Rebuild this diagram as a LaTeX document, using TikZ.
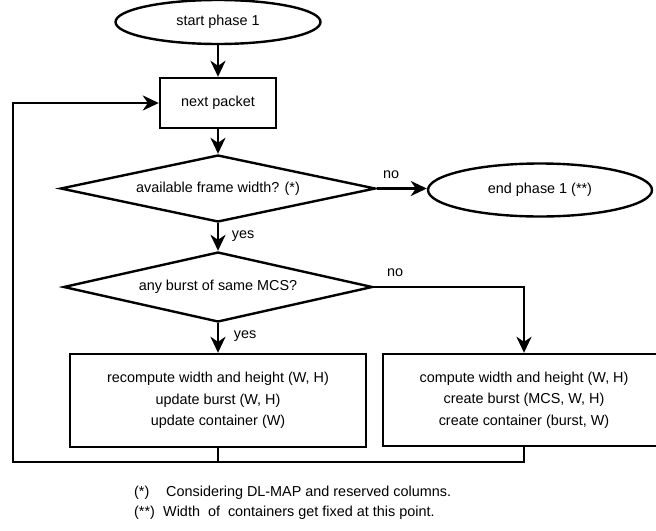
\documentclass[tikz,border=0pt]{standalone}
\usepackage{fontspec}
\setmainfont{Liberation Sans}
\usetikzlibrary{shapes.geometric,arrows.meta,positioning}

\tikzset{
	terminal/.style={ellipse, draw, inner sep=0pt},
	process/.style={rectangle, draw, inner sep=0pt, align=center},
	decision/.style={diamond, draw, aspect=4, inner sep=0pt},
	flow/.style={->},
}

\begin{document}
\begin{tikzpicture}[x=0.5pt,y=-0.5pt,>={Stealth[length=8pt,width=7.5pt,inset=2.5pt]},
	line width=1.2pt, font=\fontsize{7.2}{10.75}\selectfont]

\useasboundingbox (0,0) rectangle (656,530);

% Main column
\node[terminal, minimum width=102.5pt, minimum height=22pt] (start) at (218,22) {start phase 1};
\node[process, minimum width=58pt, minimum height=25pt] (next) at (218,103) {next packet};
\node[decision, minimum width=157.5pt, minimum height=33.5pt] (width) at (218,188.5) {available frame width? (*)};
\node[decision, minimum width=154.5pt, minimum height=35pt] (burst) at (218,287) {any burst of same MCS?};

% End of phase
\node[terminal, minimum width=112pt, minimum height=26.5pt] (end) at (540,190) {end phase 1 (**)};

% Action boxes
\node[process, minimum width=148pt, minimum height=46.5pt] (update) at (218,400.5)
	{recompute width and height (W, H)\\update burst (W, H)\\update container (W)};
\node[process, minimum width=141pt, minimum height=46pt] (create) at (524,400)
	{compute width and height (W, H)\\create burst (MCS, W, H)\\create container (burst, W)};

% Connectors
\draw[flow] (start) -- (next);
\draw[flow] (next) -- (width);
\draw[flow] (width) -- (burst);
\draw[flow] (width.east) -- (end.west |- width.east);
\draw[flow] (burst.east) -| (create.north);
\draw[flow] (burst) -- (update);

% Loop back to next packet
\coordinate (loopA) at (218,462);
\coordinate (loopB) at (13,462);
\draw (create.south) |- (loopA);
\draw[flow] (update.south) -- (loopA) -- (loopB) |- (next.west);

% Branch labels
\node (no1) at (391,175) {no};
\node (yes1) at (243,236) {yes};
\node (no2) at (395,273) {no};
\node (yes2) at (245,336) {yes};

% Notes
\node[anchor=west, inner sep=0pt] (mark1) at (133,493) {(*)};
\node[anchor=west, inner sep=0pt] (note1) at (165,493) {Considering DL-MAP and reserved columns.};
\node[anchor=west, inner sep=0pt] (mark2) at (133,513) {(**)};
\node[anchor=west, inner sep=0pt] (note2) at (162,513) {Width~~of~~containers get fixed at this point.};
\end{tikzpicture}
\end{document}
